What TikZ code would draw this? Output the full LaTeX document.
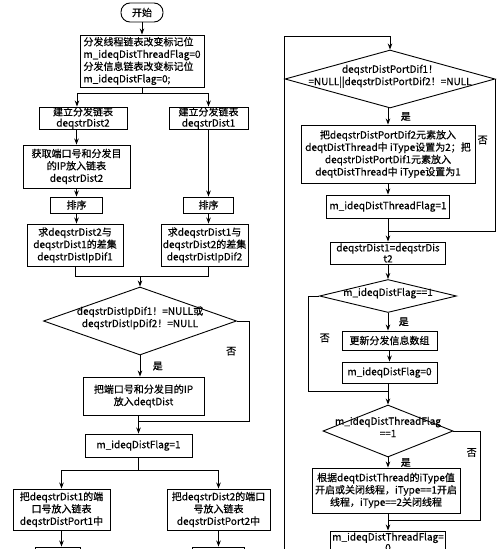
\documentclass[tikz,border=0pt]{standalone}
\usepackage{fontspec}
\setmainfont{Noto Sans CJK SC}[FakeBold=0.4]
\usetikzlibrary{shapes.geometric,positioning,arrows.meta}

\newcommand{\ctext}[1]{\smash{\makebox[0pt]{\begin{tabular}{@{}c@{}}#1\end{tabular}}}}

\begin{document}
\begin{tikzpicture}[x=1pt,y=1pt,>={Stealth[length=6pt,width=4.5pt]},line width=0.9pt,on grid,
  every node/.style={font=\fontsize{10}{12.3}\selectfont},
  box/.style={draw,rectangle,align=center,inner sep=1pt},
  tight/.style={font=\fontsize{10}{11}\selectfont,inner sep=0pt},
  cond/.style={draw,diamond,inner sep=0pt},
  term/.style={draw,rectangle,rounded corners=9pt,minimum width=42pt,minimum height=19pt}]
\useasboundingbox (0,0) rectangle (500,-549);

% left part
\node[term] (start) at (142,-12.5) {开始};
\node[box,align=left,minimum width=124pt,minimum height=52pt] (init) [below=48.5pt of start] {分发线程链表改变标记位\\m\_ideqDistThreadFlag=0\\分发信息链表改变标记位\\m\_ideqDistFlag=0;};
\node[box,tight,minimum width=88pt,minimum height=22pt] (mk2) [below left=57pt and 59pt of init] {建立分发链表\\deqstrDist2};
\node[box,tight,minimum width=79pt,minimum height=22pt] (mk1) [right=125.5pt of mk2] {建立分发链表\\deqstrDist1};
\node[box,minimum width=107pt,minimum height=43pt] (get2) [below=48.5pt of mk2,xshift=-6.5pt] {获取端口号和分发目\\的IP放入链表\\deqstrDist2};
\node[box,minimum width=52pt,minimum height=16pt] (sort2) [below=38.5pt of get2] {排序};
\node[box,minimum width=50pt,minimum height=16pt] (sort1) [below=87pt of mk1] {排序};
\node[box,minimum width=96pt,minimum height=42pt] (dif1) [below=40pt of sort2,xshift=-1.5pt] {求deqstrDist2与\\deqstrDist1的差集\\deqstrDistIpDif1};
\node[box,minimum width=87pt,minimum height=42pt] (dif2) [below=40pt of sort1,xshift=-4pt] {求deqstrDist1与\\deqstrDist2的差集\\deqstrDistIpDif2};
\node[cond,minimum width=193pt,minimum height=68pt] (ipq) [below right=76pt and 65pt of dif1] {\ctext{deqstrDistIpDif1！=NULL或\\deqstrDistIpDif2！=NULL}};
\node[box,minimum width=121pt,minimum height=38pt] (put) [below=75pt of ipq,xshift=3.5pt] {把端口号和分发目的IP\\放入deqtDist};
\node[box,minimum width=107pt,minimum height=23pt] (flag1) [below=124.5pt of ipq,xshift=-1.5pt] {m\_ideqDistFlag=1};
\node[box,minimum width=97pt,minimum height=41pt] (port1) [below left=64pt and 77pt of flag1] {把deqstrDist1的端\\口号放入链表\\deqstrDistPort1中};
\node[box,minimum width=103pt,minimum height=41pt] (port2) [right=157pt of port1] {把deqstrDist2的端口\\号放入链表\\deqstrDistPort2中};
\node[box,minimum width=45pt,minimum height=20pt] (nxt1) [below=47.5pt of port1,xshift=-4pt] {};
\node[box,minimum width=52pt,minimum height=20pt] (nxt2) [below=47.5pt of port2] {};

% right part
\node[cond,minimum width=210pt,minimum height=58pt] (portq) at (390,-79) {\ctext{deqstrDistPortDif1！\\=NULL||deqstrDistPortDif2！=NULL}};
\node[box,minimum width=174pt,minimum height=58pt] (put2) [below=75pt of portq,xshift=-2pt] {把deqstrDistPortDif2元素放入\\deqtDistThread中 iType设置为2；把\\deqstrDistPortDif1元素放入\\deqtDistThread中 iType设置为1};
\node[box,minimum width=123pt,minimum height=23pt] (tflag1) [below=52.5pt of put2] {m\_ideqDistThreadFlag=1};
\node[box,tight,minimum width=115pt,minimum height=22pt] (swap) [below=46.5pt of tflag1] {deqstrDist1=deqstrDis\\t2};
\node[cond,minimum width=137pt,minimum height=33pt] (flagq) [below=43pt of swap] {\ctext{m\_ideqDistFlag==1}};
\node[box,minimum width=95pt,minimum height=19pt] (upd) [below=44.5pt of flagq,xshift=1.5pt] {更新分发信息数组};
\node[box,minimum width=95pt,minimum height=21pt] (flag0) [below=32pt of upd] {m\_ideqDistFlag=0};
\node[cond,minimum width=130pt,minimum height=52pt] (threadq) [below=135pt of flagq] {\ctext{m\_ideqDistThreadFlag\\==1}};
\node[box,minimum width=148pt,minimum height=45pt] (thr) [below=59.5pt of threadq,xshift=-2pt] {根据deqtDistThread的iType值\\开启或关闭线程，iType==1开启\\线程，iType==2关闭线程};
\node[box,tight,font=\fontsize{10}{9.5}\selectfont,minimum width=115pt,minimum height=22pt] (tflag0) [below=111pt of threadq] {m\_ideqDistThreadFlag=\\0};

% left connectors
\draw[->] (start) -- (init);
\draw (init.south) -- ++(0,-6) coordinate (fork1);
\draw[->] (fork1) -| ([xshift=-6pt]mk2.north);
\draw[->] (fork1) -| (mk1.north);
\draw[->] (get2.north |- mk2.south) -- (get2.north);
\draw[->] (get2) -- (sort2);
\draw[->] (sort2.south) -- (sort2.south |- dif1.north);
\draw[->] (mk1) -- (sort1);
\draw[->] (sort1.south) -- (sort1.south |- dif2.north);
\coordinate (join1) at ([yshift=10pt]ipq.north);
\draw (dif1.south) |- (join1) -| (sort1 |- dif2.south);
\draw[->] (join1) -- (ipq);
\draw[->] (ipq.south) -- (ipq.south |- put.north) node[midway,right=9pt] {是};
\coordinate (join2) at ([yshift=12pt]flag1.north);
\draw[->] (put.south -| flag1.north) -- (flag1.north);
\draw (ipq.east) -- ++(12,0) |- (join2) node[pos=.15,left=9pt] {否};
\draw (flag1.south) -- ++(0,-12.5) coordinate (fork2);
\draw[->] (fork2) -| (port1);
\draw[->] (fork2) -| (port2);
\draw[->] (port1.south) -- (port1.south |- nxt1.north);
\draw[->] (port2) -- (nxt2);

% right connectors
\coordinate (back) at (284,-560);
\draw[->] (back) |- ([yshift=13pt]portq.north) -- (portq.north);
\draw[->] (put2.north |- portq.south) -- (put2.north) node[midway,right=9pt] {是};
\draw[->] (put2) -- (tflag1);
\coordinate (join3) at ([yshift=10pt]swap.north);
\draw (tflag1) -- (join3);
\draw[->] (join3) -- (swap);
\draw (portq.east) |- (join3) node[pos=.2,left=4pt] {否};
\draw[->] (swap) -- (flagq);
\draw[->] (flagq.south) -- (flagq.south |- upd.north) node[midway,right=7pt] {是};
\draw[->] (upd) -- (flag0);
\coordinate (join4) at ([yshift=13pt]threadq.north);
\draw (flag0.south -| join4) -- (join4);
\draw[->] (join4) -- (threadq);
\draw (flagq.west) -- ++(-11,0) |- (join4) node[pos=.22,right=8pt] {否};
\draw[->] (threadq.south) -- (threadq.south |- thr.north) node[midway,right=9pt] {是};
\coordinate (join5) at ([yshift=10pt]tflag0.north);
\draw (thr.south -| join5) -- (join5);
\draw[->] (join5) -- (tflag0);
\draw (threadq.east) -- ++(27,0) |- (join5) node[pos=.12,left=0pt] {否};
\end{tikzpicture}
\end{document}
